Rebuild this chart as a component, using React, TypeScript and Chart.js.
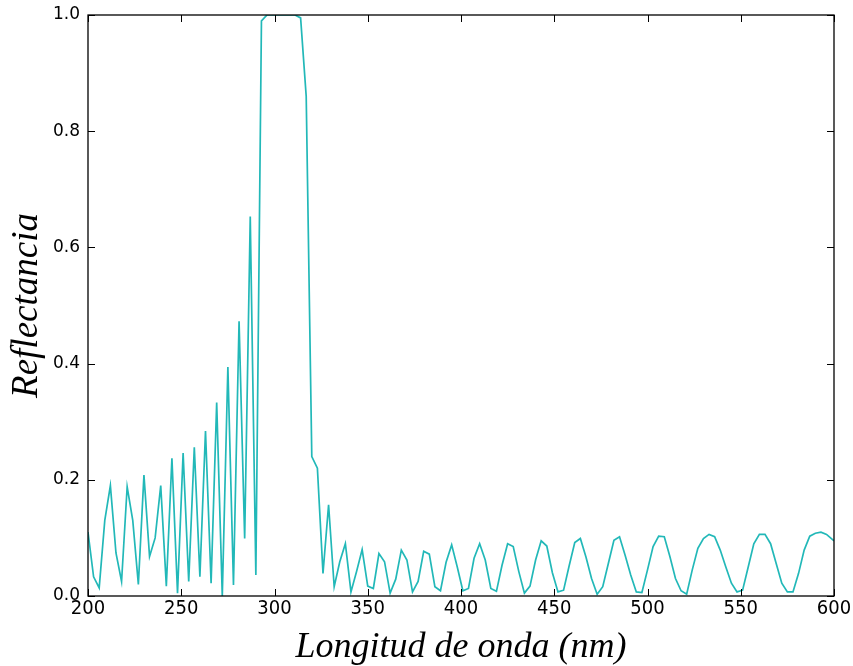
import React, { useEffect, useRef } from "react";
import { Chart, registerables } from "chart.js";

Chart.register(...registerables);

// Wavelength grid (nm)
const wavelengths = [
  200, 203, 206, 209, 212, 215, 218, 221, 224, 227, 230, 233, 236, 239, 242, 245, 248, 251, 254, 257,
  260, 263, 266, 269, 272, 275, 278, 281, 284, 287, 290, 293, 296, 299, 302, 305, 308, 311, 314, 317,
  320, 323, 326, 329, 332, 335, 338, 341, 344, 347, 350, 353, 356, 359, 362, 365, 368, 371, 374, 377,
  380, 383, 386, 389, 392, 395, 398, 401, 404, 407, 410, 413, 416, 419, 422, 425, 428, 431, 434, 437,
  440, 443, 446, 449, 452, 455, 458, 461, 464, 467, 470, 473, 476, 479, 482, 485, 488, 491, 494, 497,
  500, 503, 506, 509, 512, 515, 518, 521, 524, 527, 530, 533, 536, 539, 542, 545, 548, 551, 554, 557,
  560, 563, 566, 569, 572, 575, 578, 581, 584, 587, 590, 593, 596, 600,
];

// Reflectance values
const reflectance = [
  0.11, 0.033, 0.014, 0.13, 0.19, 0.074, 0.025, 0.188, 0.13, 0.02, 0.208, 0.068, 0.1, 0.19, 0.017, 0.237, 0.005, 0.246, 0.025, 0.256,
  0.033, 0.284, 0.022, 0.333, 0.0, 0.394, 0.019, 0.473, 0.099, 0.653, 0.036, 0.99, 1.0, 1.0, 1.0, 1.0, 1.0, 1.0, 0.995, 0.86,
  0.24, 0.22, 0.039, 0.157, 0.016, 0.059, 0.09, 0.007, 0.042, 0.08, 0.017, 0.013, 0.073, 0.059, 0.005, 0.029, 0.079, 0.062, 0.007, 0.025,
  0.077, 0.072, 0.016, 0.009, 0.058, 0.088, 0.05, 0.009, 0.013, 0.065, 0.09, 0.062, 0.013, 0.008, 0.053, 0.09, 0.085, 0.042, 0.005, 0.017,
  0.062, 0.095, 0.086, 0.04, 0.007, 0.01, 0.052, 0.092, 0.099, 0.067, 0.03, 0.003, 0.016, 0.056, 0.096, 0.102, 0.07, 0.036, 0.007, 0.006,
  0.045, 0.085, 0.103, 0.102, 0.068, 0.03, 0.009, 0.003, 0.045, 0.082, 0.099, 0.106, 0.102, 0.079, 0.05, 0.022, 0.007, 0.01, 0.05, 0.09,
  0.106, 0.106, 0.09, 0.056, 0.022, 0.007, 0.007, 0.039, 0.079, 0.103, 0.108, 0.11, 0.106, 0.095,
];

const xTicks = [200, 250, 300, 350, 400, 450, 500, 550, 600];
const yTicks = [0, 0.2, 0.4, 0.6, 0.8, 1.0];

const frameTicks = {
  id: "frameTicks",
  afterDraw(chart: any) {
    const { ctx, chartArea: a, scales } = chart;
    const len = 7;
    ctx.save();
    ctx.strokeStyle = "#000";
    ctx.lineWidth = 1;
    ctx.beginPath();
    for (const v of xTicks) {
      const px = Math.round(scales.x.getPixelForValue(v)) + 0.5;
      ctx.moveTo(px, a.bottom);
      ctx.lineTo(px, a.bottom - len);
      ctx.moveTo(px, a.top);
      ctx.lineTo(px, a.top + len);
    }
    for (const v of yTicks) {
      const py = Math.round(scales.y.getPixelForValue(v)) + 0.5;
      ctx.moveTo(a.left, py);
      ctx.lineTo(a.left + len, py);
      ctx.moveTo(a.right, py);
      ctx.lineTo(a.right - len, py);
    }
    ctx.stroke();
    ctx.lineWidth = 1.3;
    ctx.strokeRect(a.left, a.top, a.right - a.left, a.bottom - a.top);
    ctx.restore();
  },
};

export default function App() {
  const canvasRef = useRef<HTMLCanvasElement | null>(null);

  useEffect(() => {
    document.body.style.margin = "0";
    const canvas = canvasRef.current;
    if (!canvas) return;
    const chart = new Chart(canvas, {
      type: "line",
      data: {
        datasets: [
          {
            data: wavelengths.map((w, i) => ({ x: w, y: reflectance[i] })),
            borderColor: "#22b8b8",
            borderWidth: 1.7,
            pointRadius: 0,
            tension: 0,
            fill: false,
          },
        ],
      },
      options: {
        responsive: false,
        animation: false,
        devicePixelRatio: 1,
        layout: { padding: { top: 15, right: 19, left: 0, bottom: 0 } },
        plugins: { legend: { display: false }, tooltip: { enabled: false } },
        scales: {
          x: {
            type: "linear",
            min: 200,
            max: 600,
            afterBuildTicks: (s: any) => {
              s.ticks = xTicks.map((v) => ({ value: v }));
            },
            afterFit: (s: any) => {
              s.height = 70;
              s.paddingLeft = 0;
              s.paddingRight = 0;
            },
            ticks: {
              font: { family: "'Liberation Sans Narrow', 'DejaVu Sans Condensed', 'DejaVu Sans'", size: 20 },
              color: "#000",
              padding: 1,
              maxRotation: 0,
              autoSkip: false,
            },
            grid: { display: false, drawTicks: false },
            border: { display: false },
            title: {
              display: true,
              text: "Longitud de onda (nm)",
              color: "#000",
              font: { family: "'Liberation Serif'", style: "italic", size: 36 },
              padding: { top: 0, bottom: -3 },
            },
          },
          y: {
            type: "linear",
            min: 0,
            max: 1,
            afterBuildTicks: (s: any) => {
              s.ticks = yTicks.map((v) => ({ value: v }));
            },
            afterFit: (s: any) => {
              s.width = 88;
              s.paddingTop = 0;
              s.paddingBottom = 0;
            },
            ticks: {
              font: { family: "'DejaVu Sans'", size: 17 },
              color: "#000",
              padding: 8,
              callback: (v: any) => Number(v).toFixed(1),
            },
            grid: { display: false, drawTicks: false },
            border: { display: false },
            title: {
              display: true,
              text: "Reflectancia",
              color: "#000",
              font: { family: "'Liberation Serif'", style: "italic", size: 37 },
              padding: { top: 5, bottom: 0 },
            },
          },
        },
      },
      plugins: [frameTicks],
    });
    return () => chart.destroy();
  }, []);

  return (
    <div style={{ width: 853, height: 666, background: "#fff" }}>
      <canvas ref={canvasRef} width={853} height={666} />
    </div>
  );
}
